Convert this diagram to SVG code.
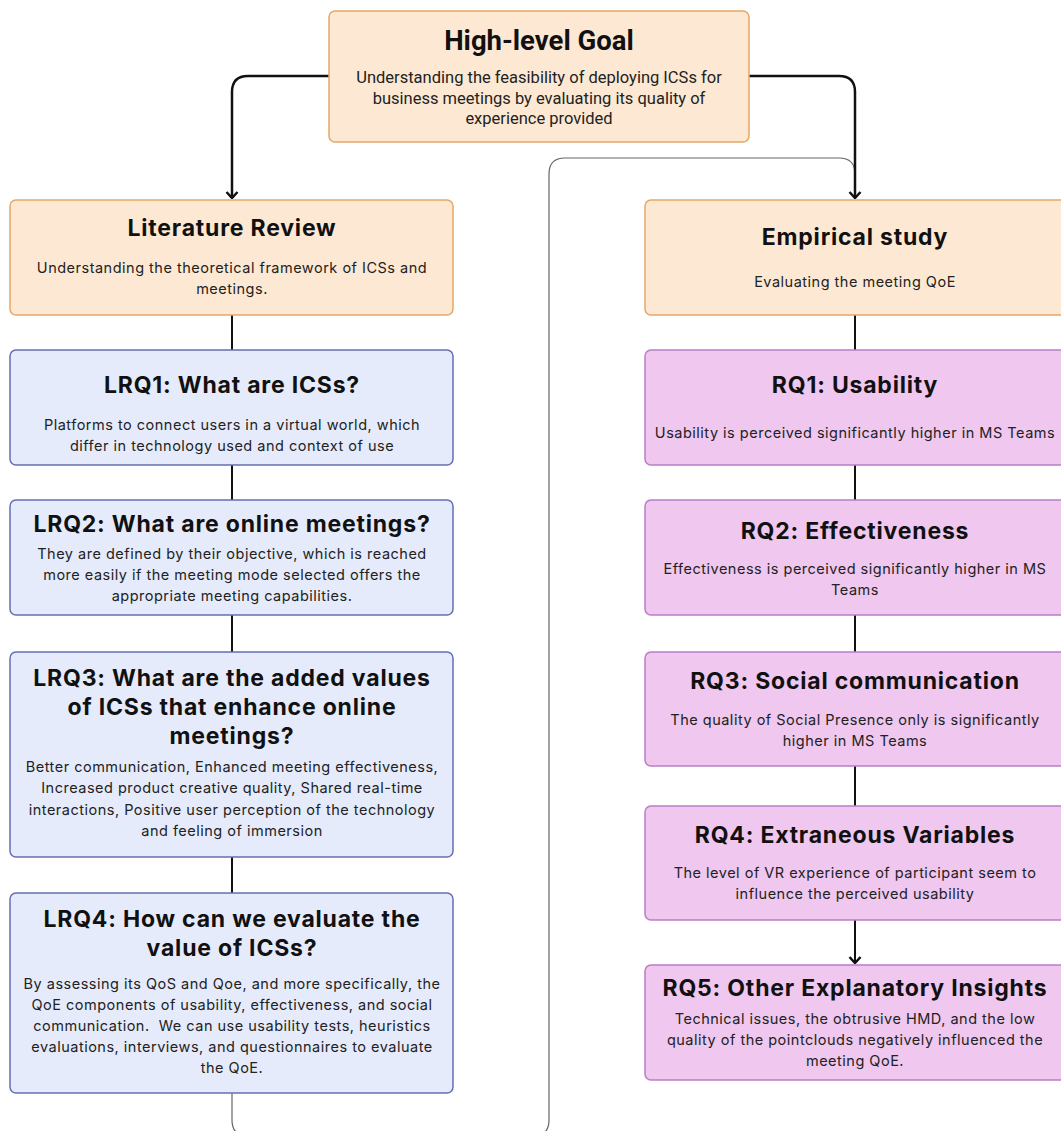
<svg xmlns="http://www.w3.org/2000/svg" width="1061" height="1131" viewBox="0 0 1061 1131">
  <style>
    .orange { fill: #fde9d3; stroke: #e5a867; stroke-width: 1.5; }
    .blue { fill: #e5ebfb; stroke: #6470b0; stroke-width: 1.5; }
    .pink { fill: #efc7ef; stroke: #b97dc6; stroke-width: 1.5; }
    .title { font-family: Inter, "Liberation Sans", sans-serif; font-weight: 700; font-size: 23px; letter-spacing: 0.8px; fill: #111; text-anchor: middle; }
    .body { font-family: Inter, "Liberation Sans", sans-serif; font-size: 14.5px; letter-spacing: 0.5px; fill: #222; text-anchor: middle; }
    .gtitle { font-family: Roboto, "Liberation Sans", sans-serif; font-weight: 700; font-size: 27.5px; fill: #111; text-anchor: middle; }
    .gbody { font-family: Roboto, "Liberation Sans", sans-serif; font-size: 16.5px; fill: #222; text-anchor: middle; }
    .link { fill: none; stroke: #111; stroke-width: 2; }
    .flow { fill: none; stroke: #111; stroke-width: 2.5; }
    .loop { fill: none; stroke: #666; stroke-width: 1.2; }
  </style>
  <defs>
    <!-- open chevron head; drawn pointing along +x so orient="auto" follows the path -->
    <marker id="head" viewBox="0 0 10 14" refX="9" refY="7" markerWidth="10" markerHeight="14" markerUnits="userSpaceOnUse" orient="auto">
      <path d="M3,1.5 L9,7 L3,12.5" fill="none" stroke="#111" stroke-width="2.5" stroke-linejoin="miter"/>
    </marker>
  </defs>

  <rect width="1061" height="1131" fill="#ffffff"/>

  <!-- connectors -->
  <g id="connectors">
    <path class="loop" d="M232,1093 V1120 Q232,1136 248,1136 H533 Q549,1136 549,1120 V174 Q549,158 565,158 H839 Q855,158 855,174"/>
    <path class="flow" d="M329,76 H248 Q232,76 232,92 V198" marker-end="url(#head)"/>
    <path class="flow" d="M749,76 H839 Q855,76 855,92 V198" marker-end="url(#head)"/>
    <line class="link" x1="232" y1="315" x2="232" y2="350"/>
    <line class="link" x1="232" y1="465" x2="232" y2="500"/>
    <line class="link" x1="232" y1="615" x2="232" y2="652"/>
    <line class="link" x1="232" y1="857" x2="232" y2="893"/>
    <line class="link" x1="855" y1="315" x2="855" y2="350"/>
    <line class="link" x1="855" y1="465" x2="855" y2="500"/>
    <line class="link" x1="855" y1="615" x2="855" y2="652"/>
    <line class="link" x1="855" y1="766" x2="855" y2="806"/>
    <path class="link" d="M855,920 V963" marker-end="url(#head)"/>
  </g>

  <!-- top goal -->
  <g id="goal">
    <rect class="orange" x="329" y="11" width="420" height="131" rx="6"/>
    <text class="gtitle" x="539" y="50">High-level Goal</text>
    <text class="gbody" x="539" y="83">Understanding the feasibility of deploying ICSs for</text>
    <text class="gbody" x="539" y="104">business meetings by evaluating its quality of</text>
    <text class="gbody" x="539" y="124">experience provided</text>
  </g>

  <!-- left column -->
  <g id="literature-review">
    <rect class="orange" x="10" y="200" width="443" height="115" rx="6"/>
    <text class="title" x="232" y="236">Literature Review</text>
    <text class="body" x="232" y="273">Understanding the theoretical framework of ICSs and</text>
    <text class="body" x="232" y="294">meetings.</text>
  </g>

  <g id="lrq1">
    <rect class="blue" x="10" y="350" width="443" height="115" rx="6"/>
    <text class="title" x="232" y="393">LRQ1: What are ICSs?</text>
    <text class="body" x="232" y="430">Platforms to connect users in a virtual world, which</text>
    <text class="body" x="232" y="451">differ in technology used and context of use</text>
  </g>

  <g id="lrq2">
    <rect class="blue" x="10" y="500" width="443" height="115" rx="6"/>
    <text class="title" x="232" y="532">LRQ2: What are online meetings?</text>
    <text class="body" x="232" y="559">They are defined by their objective, which is reached</text>
    <text class="body" x="232" y="580">more easily if the meeting mode selected offers the</text>
    <text class="body" x="232" y="601">appropriate meeting capabilities.</text>
  </g>

  <g id="lrq3">
    <rect class="blue" x="10" y="652" width="443" height="205" rx="6"/>
    <text class="title" x="232" y="686">LRQ3: What are the added values</text>
    <text class="title" x="232" y="715">of ICSs that enhance online</text>
    <text class="title" x="232" y="744">meetings?</text>
    <text class="body" x="232" y="772">Better communication, Enhanced meeting effectiveness,</text>
    <text class="body" x="232" y="793">Increased product creative quality, Shared real-time</text>
    <text class="body" x="232" y="815">interactions, Positive user perception of the technology</text>
    <text class="body" x="232" y="836">and feeling of immersion</text>
  </g>

  <g id="lrq4">
    <rect class="blue" x="10" y="893" width="443" height="200" rx="6"/>
    <text class="title" x="232" y="927">LRQ4: How can we evaluate the</text>
    <text class="title" x="232" y="956">value of ICSs?</text>
    <text class="body" x="232" y="989">By assessing its QoS and Qoe, and more specifically, the</text>
    <text class="body" x="232" y="1010">QoE components of usability, effectiveness, and social</text>
    <text class="body" x="232" y="1031" xml:space="preserve">communication.  We can use usability tests, heuristics</text>
    <text class="body" x="232" y="1052">evaluations, interviews, and questionnaires to evaluate</text>
    <text class="body" x="232" y="1073">the QoE.</text>
  </g>

  <!-- right column -->
  <g id="empirical-study">
    <rect class="orange" x="645" y="200" width="422" height="115" rx="6"/>
    <text class="title" x="855" y="245">Empirical study</text>
    <text class="body" x="855" y="287">Evaluating the meeting QoE</text>
  </g>

  <g id="rq1">
    <rect class="pink" x="645" y="350" width="422" height="115" rx="6"/>
    <text class="title" x="855" y="393">RQ1: Usability</text>
    <text class="body" x="855" y="438">Usability is perceived significantly higher in MS Teams</text>
  </g>

  <g id="rq2">
    <rect class="pink" x="645" y="500" width="422" height="115" rx="6"/>
    <text class="title" x="855" y="539">RQ2: Effectiveness</text>
    <text class="body" x="855" y="574">Effectiveness is perceived significantly higher in MS</text>
    <text class="body" x="855" y="595">Teams</text>
  </g>

  <g id="rq3">
    <rect class="pink" x="645" y="652" width="422" height="114" rx="6"/>
    <text class="title" x="855" y="689">RQ3: Social communication</text>
    <text class="body" x="855" y="725">The quality of Social Presence only is significantly</text>
    <text class="body" x="855" y="746">higher in MS Teams</text>
  </g>

  <g id="rq4">
    <rect class="pink" x="645" y="806" width="422" height="114" rx="6"/>
    <text class="title" x="855" y="843">RQ4: Extraneous Variables</text>
    <text class="body" x="855" y="878">The level of VR experience of participant seem to</text>
    <text class="body" x="855" y="899">influence the perceived usability</text>
  </g>

  <g id="rq5">
    <rect class="pink" x="645" y="965" width="422" height="115" rx="6"/>
    <text class="title" x="855" y="996">RQ5: Other Explanatory Insights</text>
    <text class="body" x="855" y="1024">Technical issues, the obtrusive HMD, and the low</text>
    <text class="body" x="855" y="1045">quality of the pointclouds negatively influenced the</text>
    <text class="body" x="855" y="1066">meeting QoE.</text>
  </g>
</svg>
